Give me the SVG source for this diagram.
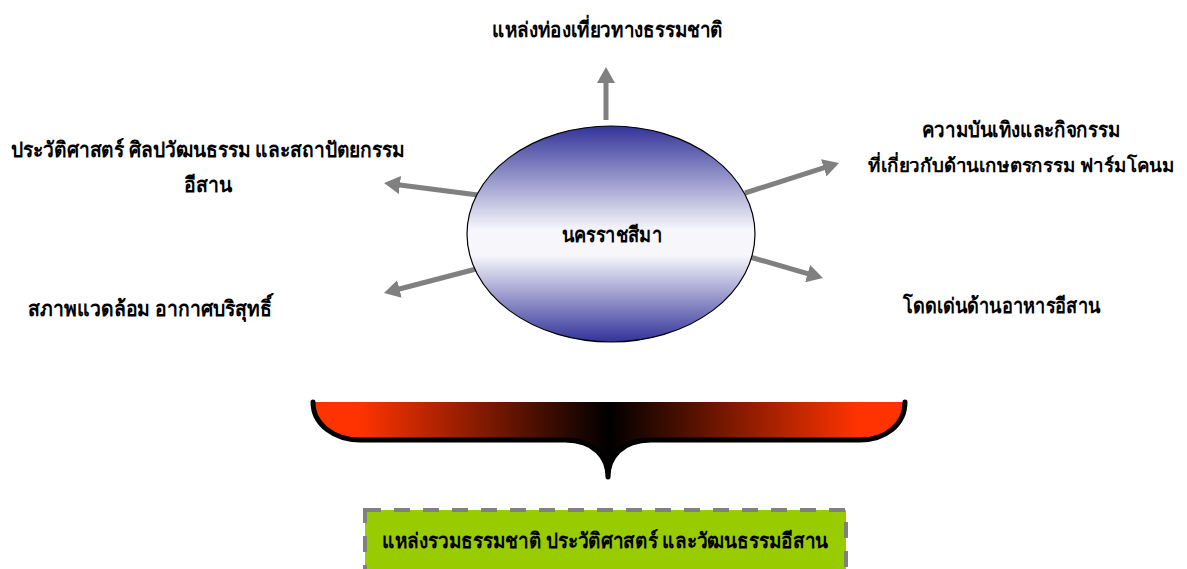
<svg xmlns="http://www.w3.org/2000/svg" width="1187" height="569" viewBox="0 0 1187 569">
<style>
.t{font-family:"Liberation Serif","Noto Sans",serif;font-weight:bold;font-size:21px;fill:#000}
.c{text-anchor:middle}
.s{font-size:19px}
.arr{stroke:#808080;stroke-width:5;fill:none;marker-end:url(#ah)}
</style>
<defs>
<linearGradient id="eg" x1="0" y1="0" x2="0" y2="1">
<stop offset="0" stop-color="#333399"/>
<stop offset="0.48" stop-color="#f6f6fb"/>
<stop offset="0.6" stop-color="#f6f6fb"/>
<stop offset="1" stop-color="#333399"/>
</linearGradient>
<linearGradient id="bg" x1="313" y1="0" x2="905" y2="0" gradientUnits="userSpaceOnUse">
<stop offset="0" stop-color="#ff3300"/>
<stop offset="0.08" stop-color="#ff3300"/>
<stop offset="0.5" stop-color="#000000"/>
<stop offset="0.92" stop-color="#ff3300"/>
<stop offset="1" stop-color="#ff3300"/>
</linearGradient>
<marker id="ah" viewBox="0 0 16 18" refX="8" refY="9" markerWidth="16" markerHeight="18" markerUnits="userSpaceOnUse" orient="auto">
<path d="M0,0 L16,9 L0,18 z" fill="#808080"/>
</marker>
</defs>
<g id="connectors">
<line class="arr" x1="606" y1="120" x2="606" y2="75"/>
<line class="arr" x1="478" y1="195" x2="392" y2="184"/>
<line class="arr" x1="480" y1="268" x2="391.7" y2="291"/>
<line class="arr" x1="745" y1="193" x2="831.4" y2="165.4"/>
<line class="arr" x1="750" y1="257" x2="815.3" y2="275.8"/>
</g>
<g id="center">
<ellipse cx="611" cy="234" rx="144" ry="108" fill="url(#eg)" stroke="#000" stroke-width="1.2"/>
<text class="t c" x="612" y="242" textLength="100" lengthAdjust="spacingAndGlyphs">นครราชสีมา</text>
</g>
<g id="n-top">
<text class="t" x="492" y="37" textLength="231" lengthAdjust="spacingAndGlyphs">แหล่งท่องเที่ยวทางธรรมชาติ</text>
</g>
<g id="n-left-upper">
<text class="t" x="11" y="157" textLength="394" lengthAdjust="spacingAndGlyphs">ประวัติศาสตร์ ศิลปวัฒนธรรม และสถาปัตยกรรม</text>
<text class="t" x="184" y="192" textLength="48" lengthAdjust="spacingAndGlyphs">อีสาน</text>
</g>
<g id="n-left-lower">
<text class="t" x="28" y="316" textLength="244" lengthAdjust="spacingAndGlyphs">สภาพแวดล้อม อากาศบริสุทธิ์</text>
</g>
<g id="n-right-upper">
<text class="t" x="922" y="137" textLength="198" lengthAdjust="spacingAndGlyphs">ความบันเทิงและกิจกรรม</text>
<text class="t c s" x="1021.5" y="172" textLength="307" lengthAdjust="spacingAndGlyphs">ที่เกี่ยวกับด้านเกษตรกรรม ฟาร์มโคนม</text>
</g>
<g id="n-right-lower">
<text class="t" x="903" y="313" textLength="197" lengthAdjust="spacingAndGlyphs">โดดเด่นด้านอาหารอีสาน</text>
</g>
<g id="brace">
<path d="M313,402 C313,425 335,440 360,440 L565,440 C595,440 608,458 608,477 C608,458 621,440 651,440 L860,440 C885,440 905,425 905,402 Z" fill="url(#bg)" stroke="none"/>
<path d="M313,402 C313,425 335,440 360,440 L565,440 C595,440 608,458 608,477 C608,458 621,440 651,440 L860,440 C885,440 905,425 905,402" fill="none" stroke="#000" stroke-width="5" stroke-linecap="round" stroke-linejoin="round"/>
</g>
<g id="n-bottom">
<rect x="365" y="510" width="481" height="62" fill="#99cc00" stroke="#808080" stroke-width="4" stroke-dasharray="16 13"/>
<text class="t" x="382" y="548" textLength="446" lengthAdjust="spacingAndGlyphs">แหล่งรวมธรรมชาติ ประวัติศาสตร์ และวัฒนธรรมอีสาน</text>
</g>
</svg>
